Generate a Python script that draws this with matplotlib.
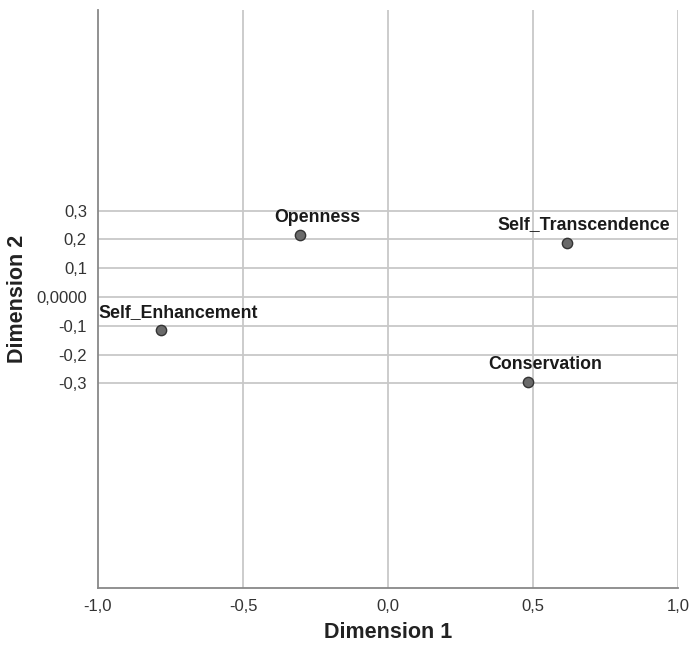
import matplotlib
matplotlib.use("Agg")
import matplotlib.pyplot as plt

plt.rcParams['font.family'] = ['Liberation Sans', 'DejaVu Sans']

names = ["Openness", "Self_Transcendence", "Self_Enhancement", "Conservation"]
dim1 = [-0.303, 0.617, -0.783, 0.483]
dim2 = [0.215, 0.189, -0.115, -0.295]

x_ticks = [-1.0, -0.5, 0.0, 0.5, 1.0]
x_tick_labels = ["-1,0", "-0,5", "0,0", "0,5", "1,0"]
y_ticks = [0.3, 0.2, 0.1, 0.0, -0.1, -0.2, -0.3]
y_tick_labels = ["0,3", "0,2", "0,1", "0,0000", "-0,1", "-0,2", "-0,3"]

fig = plt.figure(figsize=(6.90, 6.47), dpi=100)
ax = fig.add_axes([98 / 690, 59 / 647, 580 / 690, 578 / 647])

ax.set_xlim(-1.0, 1.0)
ax.set_ylim(-1.0094, 0.9956)

grid_color = "#c8c8c8"
for xv in x_ticks[1:]:
    ax.axvline(xv, color=grid_color, lw=1.3, zorder=1)
for yv in y_ticks:
    ax.axhline(yv, color=grid_color, lw=1.3, zorder=1)

ax.scatter(dim1, dim2, s=55, color="#6a6a6a", edgecolors="#333333",
           linewidths=1.0, zorder=3)

# labels sit above each point, nudged right (offsets in points at 100 dpi)
for n, x, y in zip(names, dim1, dim2):
    ax.annotate(n, (x, y), xytext=(12.2, 9.4), textcoords="offset points",
                ha="center", va="baseline", fontsize=12.8, fontweight="bold",
                color="#1a1a1a", zorder=4)

ax.set_xticks(x_ticks)
ax.set_xticklabels(x_tick_labels)
ax.set_yticks(y_ticks)
ax.set_yticklabels(y_tick_labels)
ax.tick_params(axis="both", length=0, labelsize=12, colors="#333333", pad=8)

for side in ["top", "right"]:
    ax.spines[side].set_visible(False)
for side in ["left", "bottom"]:
    ax.spines[side].set_color("#888888")
    ax.spines[side].set_linewidth(1.3)

ax.set_xlabel("Dimension 1", fontsize=15.5, fontweight="bold", color="#222222",
              labelpad=6)
ax.set_ylabel("Dimension 2", fontsize=15.5, fontweight="bold", color="#222222",
              labelpad=6)

fig.savefig("out.png", dpi=100, facecolor="white")
